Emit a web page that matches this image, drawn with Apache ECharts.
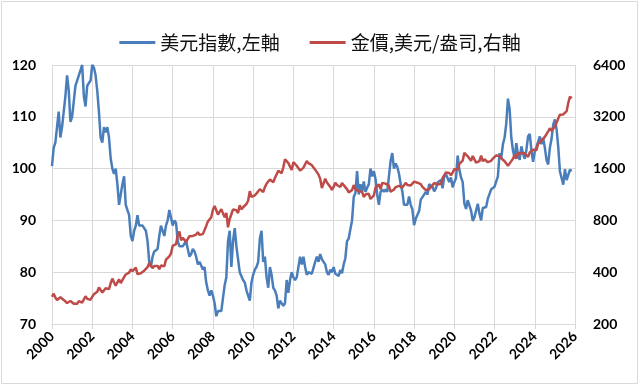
<!DOCTYPE html>
<html>
<head>
<meta charset="utf-8">
<script src="https://cdn.jsdelivr.net/npm/echarts@6/dist/echarts.min.js"></script>
<style>
html,body{margin:0;padding:0;background:#fff;}
#chart{width:640px;height:386px;}
</style>
</head>
<body>
<div id="chart"></div>
<script>
// Monthly values, Jan 2000 .. Nov 2025
var startYear = 2000;
var seriesNames = ['美元指數,左軸', '金價,美元/盎司,右軸'];
var xTicks = [2000,2002,2004,2006,2008,2010,2012,2014,2016,2018,2020,2022,2024,2026];
var leftTicks = [70,80,90,100,110,120];
var rightTicks = [200,400,800,1600,3200,6400];

var dxy = [
 100.5,104,105,108,111,106,108,111,114,118,115,109,
 110,113,116,117,118,119,120,114,112,116,116,117,
 120,119.5,118,115,111,106,105,108,107,108,106,102,
 100,99,100,97,93,95,97,98.5,93,92,91,87,
 86,88,89,91,89,89,89,89,88,86,82,81,
 83,84,84,84.5,87,89,89,87,89,90,92,90.5,
 89,90,89.5,86,85,85,85,85,86,86,83,83.5,
 84.5,84,83,81.5,82,82,80.5,81,78,76.5,75.5,76.5,
 75.5,74,71.5,72.5,72.8,72.5,72.3,77.5,79,86,88,81,
 86,88.5,85,85,80,80,78.5,78,76.5,75.5,74.5,78,
 79.5,80.5,81,82,86.5,88,82,83,79,77,81,79.5,
 77,76.5,75.5,73,74.5,74.5,73.5,74,78.5,76,78.5,80,
 79,78.5,79,79,83,81.5,83,81,79.5,80,80,79.7,
 79.5,82,83,82,83.5,82.5,82,81.5,80,79.5,80.5,80,
 81,79.7,80,79.3,80.4,79.8,81.5,82.7,86,86.5,88.3,90,
 94.5,95.3,99.5,95,97,95.5,97.5,95.5,96.3,97,100,98.5,
 99.5,98,95,93,95.5,96,95.5,96,95.5,98.5,101.5,103,
 100,101,100.3,99,97,95.6,93,92.7,93,94.6,93,92.1,
 89.1,90.3,90,91.8,94,94.5,94.5,95.5,95,97,97.3,96.5,
 95.6,96.2,97.3,97.5,97.8,96.2,98.5,98.9,99.2,97.4,98.3,96.4,
 97.4,98.1,102.5,99.8,98.3,97.4,93.3,92.2,93.9,94,91.9,89.9,
 90.6,90.9,93.2,91.3,90,92.4,92.2,92.6,94.2,94.1,96,95.7,
 96.5,96.7,98.5,103,102,104.7,106,108.7,113.5,111.5,106,103.5,
 102,104.9,102.5,101.7,104.3,102.9,101.9,103.6,106.2,106.7,103.5,101.3,
 103.3,104.2,104.5,106.2,104.7,105.9,104.1,101.7,100.8,104,105.7,108.5,
 109.5,107.6,104.2,99.5,99.3,96.9,99.9,97.8,97.8,99.8,99.5
];

var gold = [
 288,300,285,276,274,286,282,276,273,265,266,272,
 266,262,258,262,272,271,266,272,290,280,276,277,
 282,298,302,308,326,318,305,312,323,316,319,345,
 367,350,334,339,364,346,354,375,388,384,398,416,
 405,400,425,390,393,394,391,408,415,428,453,438,
 422,435,428,435,417,437,429,433,473,470,495,513,
 569,556,582,654,690,614,633,624,600,604,648,632,
 650,665,662,683,659,650,666,672,743,789,783,834,
 923,971,990,865,885,930,914,833,884,730,815,869,
 927,942,916,883,979,927,954,955,996,1040,1182,1096,
 1081,1117,1113,1180,1215,1245,1169,1248,1307,1346,1383,1405,
 1333,1411,1439,1556,1536,1505,1628,1813,1800,1722,1746,1570,
 1744,1711,1662,1651,1558,1598,1622,1648,1772,1720,1726,1675,
 1664,1578,1598,1476,1394,1234,1314,1396,1328,1323,1253,1204,
 1251,1326,1284,1296,1250,1322,1282,1287,1216,1164,1182,1199,
 1284,1212,1183,1183,1190,1172,1095,1132,1115,1142,1065,1061,
 1118,1238,1233,1293,1215,1322,1351,1309,1316,1272,1173,1146,
 1211,1249,1247,1269,1268,1242,1269,1322,1283,1271,1275,1303,
 1345,1318,1325,1315,1298,1253,1224,1201,1187,1215,1222,1279,
 1321,1316,1292,1283,1305,1409,1437,1520,1485,1511,1464,1515,
 1589,1585,1577,1702,1730,1781,1975,2000,1887,1879,1776,1895,
 1863,1734,1708,1768,1907,1763,1814,1814,1743,1784,1775,1829,
 1796,1909,1950,1897,1837,1807,1766,1711,1660,1634,1768,1824,
 1928,1827,1969,1990,1963,1919,1965,1940,1871,1984,2036,2063,
 2040,2044,2230,2286,2327,2327,2448,2503,2635,2744,2657,2625,
 2799,2858,3124,3289,3289,3303,3290,3448,3858,4200,4100
];

function toPairs(arr){ return arr.map(function(v,i){ return [startYear + i/12, v]; }); }

var labelFont = {fontFamily:'Lato, "Liberation Sans", sans-serif', fontWeight:'bold', fontSize:14, color:'#000'};
var gridColor = '#D9D9D9';

var chart = echarts.init(document.getElementById('chart'), null, {renderer:'canvas'});
chart.setOption({
  animation:false,
  backgroundColor:'#fff',
  graphic:[{type:'rect', shape:{x:1.5,y:1.5,width:636,height:382}, style:{fill:'none', stroke:'#D9D9D9', lineWidth:1}, silent:true}],
  legend:{
    top:28, left:'center', itemWidth:36, itemHeight:3, itemGap:30, icon:'rect',
    textStyle:{fontFamily:'"Noto Sans CJK TC", sans-serif', fontSize:19, color:'#111'},
    data:seriesNames
  },
  grid:{left:52, right:65, top:65, bottom:62, containLabel:false},
  xAxis:{
    type:'value', min:xTicks[0], max:xTicks[xTicks.length-1], interval:2,
    axisLine:{show:true, lineStyle:{color:gridColor, width:1}},
    axisTick:{show:true, length:5, lineStyle:{color:gridColor}},
    splitLine:{show:true, lineStyle:{color:gridColor, width:1}},
    axisLabel:Object.assign({rotate:45, margin:10, formatter:function(v){return String(v);}}, labelFont)
  },
  yAxis:[{
    type:'value', min:leftTicks[0], max:leftTicks[leftTicks.length-1], interval:10,
    axisLine:{show:false}, axisTick:{show:false},
    splitLine:{show:true, lineStyle:{color:gridColor, width:1}},
    axisLabel:Object.assign({margin:16}, labelFont)
  },{
    type:'log', logBase:2, min:rightTicks[0], max:rightTicks[rightTicks.length-1],
    axisLine:{show:false}, axisTick:{show:false},
    splitLine:{show:false},
    axisLabel:Object.assign({margin:18, customValues:rightTicks, formatter:function(v){return String(Math.round(v));}}, labelFont)
  }],
  series:[{
    name:seriesNames[0], type:'line', yAxisIndex:0, showSymbol:false, symbol:'none',
    data:toPairs(dxy), lineStyle:{color:'#4A7EBB', width:2.5}, itemStyle:{color:'#4A7EBB'}
  },{
    name:seriesNames[1], type:'line', yAxisIndex:1, showSymbol:false, symbol:'none',
    data:toPairs(gold), lineStyle:{color:'#BE4B48', width:2.5}, itemStyle:{color:'#BE4B48'}
  }]
});
</script>
</body>
</html>
